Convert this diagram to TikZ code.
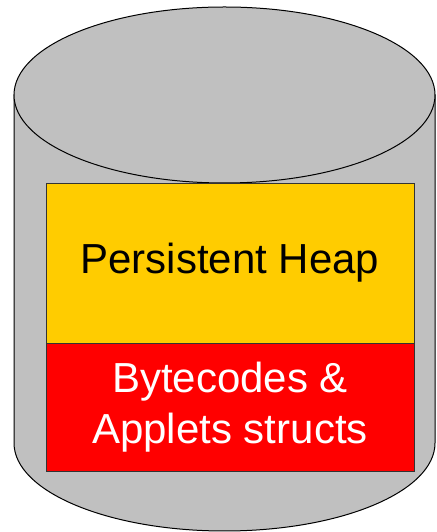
\documentclass[tikz,border=0pt]{standalone}
\usepackage{fontspec}
\setmainfont{Liberation Sans}
\usetikzlibrary{positioning}
\definecolor{diskgray}{HTML}{C0C0C0}
\definecolor{heapyellow}{HTML}{FFCC00}
\definecolor{structred}{HTML}{FF0000}
\begin{document}
\begin{tikzpicture}[x=1pt, y=1pt,
  slab/.style={draw=black!80, line width=0.8pt, minimum width=368pt, outer sep=0pt,
    align=center, font=\fontsize{42}{51}\selectfont}]
\useasboundingbox (0,0) rectangle (436,532);

% Cylinder body and lid
\draw[fill=diskgray, line width=1pt] (14,437) -- (14,89)
  arc[start angle=180, end angle=360, x radius=210.5, y radius=88] -- (435,437) -- cycle;
\draw[fill=diskgray, line width=1pt] (224.5,437) ellipse[x radius=210.5, y radius=88];

% Contents
\node[slab, fill=heapyellow, minimum height=160pt] (heap) at (230,269) {Persistent Heap};
\node[slab, fill=structred, text=white, minimum height=128pt, below=0pt of heap] (structs) {Bytecodes \&\\Applets structs};
\end{tikzpicture}
\end{document}
